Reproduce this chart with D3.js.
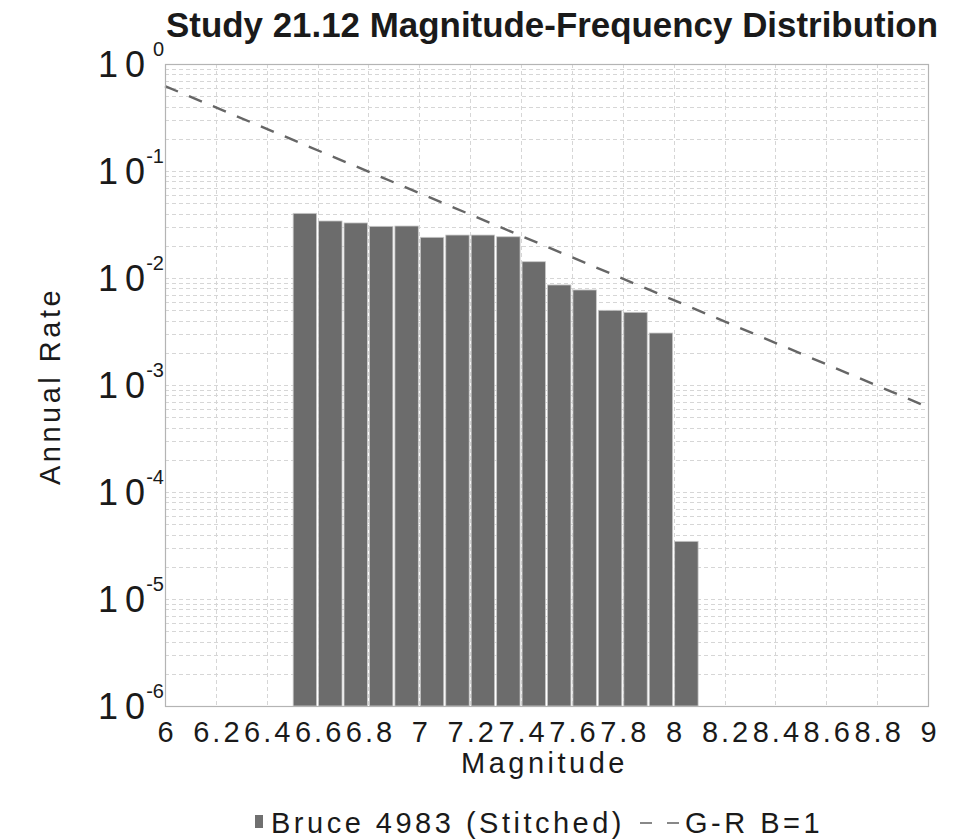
<!DOCTYPE html>
<html>
<head>
<meta charset="utf-8">
<script src="https://cdn.jsdelivr.net/npm/d3@7"></script>
<style>
  body { margin: 0; background: #fff; }
  svg { display: block; font-family: "Liberation Sans", Arial, sans-serif; }
</style>
</head>
<body>
<svg id="chart" width="969" height="839"></svg>
<script>
// Bin centres (magnitude) and annual rates for Bruce 4983 (Stitched)
const magnitudes = [6.55, 6.65, 6.75, 6.85, 6.95, 7.05, 7.15, 7.25,
                    7.35, 7.45, 7.55, 7.65, 7.75, 7.85, 7.95, 8.05];
const rates = [0.0402, 0.0341, 0.0327, 0.0304, 0.0306, 0.0240, 0.0252, 0.0252,
               0.0243, 0.0142, 0.00861, 0.00773, 0.00499, 0.00478, 0.00306, 0.0000346];

// G-R B=1 reference line end points
const grMags  = [6, 9];
const grRates = [0.622, 0.000622];

// axis ticks
const xTicks = [6, 6.2, 6.4, 6.6, 6.8, 7, 7.2, 7.4, 7.6, 7.8, 8, 8.2, 8.4, 8.6, 8.8, 9];
const yExponents = [0, -1, -2, -3, -4, -5, -6];

const svg = d3.select("#chart");
const plot = { left: 165, right: 928, top: 64, bottom: 706 };
const ink = "#1a1a1a";

const x = d3.scaleLinear().domain([6, 9]).range([plot.left, plot.right]);
const y = d3.scaleLog().domain([1e-6, 1]).range([plot.bottom, plot.top]);

// grid
const grid = svg.append("g").attr("stroke", "#d6d6d6").attr("stroke-width", 1)
  .attr("stroke-dasharray", "4,3");
y.ticks().forEach(v => {
  grid.append("line")
    .attr("x1", plot.left).attr("x2", plot.right)
    .attr("y1", Math.round(y(v)) + 0.5).attr("y2", Math.round(y(v)) + 0.5);
});
xTicks.forEach(v => {
  grid.append("line")
    .attr("y1", plot.top).attr("y2", plot.bottom)
    .attr("x1", Math.round(x(v)) + 0.5).attr("x2", Math.round(x(v)) + 0.5);
});

// bars
svg.append("g").selectAll("rect")
  .data(magnitudes)
  .enter()
  .append("rect")
    .attr("x", d => x(d - 0.05) + 1)
    .attr("width", d => x(d + 0.05) - x(d - 0.05) - 2)
    .attr("y", (d, i) => y(rates[i]))
    .attr("height", (d, i) => y(1e-6) - y(rates[i]))
    .attr("fill", "#6c6c6c")
    .attr("stroke", "#c8c8c8")
    .attr("stroke-width", 0.8);

// G-R line
const line = d3.line()
  .x(d => x(d[0]))
  .y(d => y(d[1]));
svg.append("path")
  .datum(grMags.map((m, i) => [m, grRates[i]]))
  .attr("fill", "none")
  .attr("stroke", "#666")
  .attr("stroke-width", 2.4)
  .attr("stroke-dasharray", "14,12")
  .attr("d", line);

// frame
svg.append("rect")
  .attr("x", plot.left + 0.5).attr("y", plot.top + 0.5)
  .attr("width", plot.right - plot.left).attr("height", plot.bottom - plot.top)
  .attr("fill", "none").attr("stroke", "#b4b4b4").attr("stroke-width", 1.2);

// X axis
const xAxis = svg.append("g")
  .attr("transform", `translate(0, ${plot.bottom})`)
  .call(d3.axisBottom(x).tickValues(xTicks).tickSize(0).tickPadding(0)
    .tickFormat(d => String(+d.toFixed(1))));
xAxis.select(".domain").remove();
xAxis.selectAll("text")
  .attr("dy", null)
  .attr("y", 36)
  .attr("dx", 1.5)
  .attr("font-size", 29)
  .attr("fill", ink)
  .attr("letter-spacing", 3)
  .attr("font-family", "Liberation Sans, Arial, sans-serif");

// Y axis, labels as 10 with superscript exponent (one text each)
const yAxis = svg.append("g")
  .attr("transform", `translate(${plot.left}, 0)`)
  .call(d3.axisLeft(y).tickValues(yExponents.map(e => Math.pow(10, e)))
    .tickSize(0).tickFormat(""));
yAxis.select(".domain").remove();
yAxis.selectAll(".tick").each(function(d) {
  const g = d3.select(this);
  const e = String(Math.round(Math.log10(d)));
  const t = g.append("text")
    .attr("text-anchor", "start")
    .attr("fill", ink);
  t.append("tspan")
    .attr("x", -67).attr("y", 12)
    .attr("font-size", 36)
    .text("1");
  t.append("tspan")
    .attr("dx", 7)
    .attr("font-size", 36)
    .text("0");
  const sup = t.append("tspan")
    .attr("y", -9)
    .attr("font-size", 20)
    .text(e);
  const w = sup.node().getComputedTextLength();
  sup.attr("x", -1 - w);
});

// axis titles
svg.append("text")
  .attr("x", 461).attr("y", 773)
  .attr("font-size", 29)
  .attr("letter-spacing", 3.5)
  .attr("fill", ink)
  .text("Magnitude");

svg.append("text")
  .attr("transform", "translate(60, 485) rotate(-90)")
  .attr("font-size", 29)
  .attr("letter-spacing", 3.5)
  .attr("fill", ink)
  .text("Annual Rate");

// title
svg.append("text")
  .attr("x", 166).attr("y", 37)
  .attr("font-weight", "bold")
  .attr("font-size", 35)
  .attr("textLength", 772)
  .attr("lengthAdjust", "spacingAndGlyphs")
  .attr("fill", ink)
  .text("Study 21.12 Magnitude-Frequency Distribution");

// legend
const legend = svg.append("g");
legend.append("rect")
  .attr("x", 255).attr("y", 815).attr("width", 8).attr("height", 13)
  .attr("fill", "#707070");
legend.append("text")
  .attr("x", 271).attr("y", 833)
  .attr("font-size", 29).attr("letter-spacing", 3.5).attr("fill", ink)
  .text("Bruce 4983 (Stitched)");
legend.append("line")
  .attr("x1", 640).attr("x2", 680).attr("y1", 823).attr("y2", 823)
  .attr("stroke", "#888").attr("stroke-width", 2).attr("stroke-dasharray", "12,15");
legend.append("text")
  .attr("x", 685).attr("y", 833)
  .attr("font-size", 29).attr("letter-spacing", 3.5).attr("fill", ink)
  .text("G-R B=1");
</script>
</body>
</html>
